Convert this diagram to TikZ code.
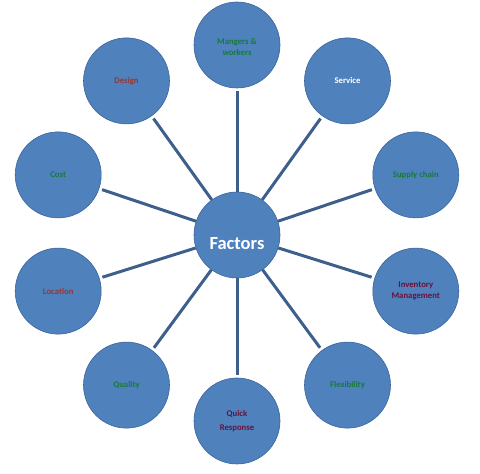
\documentclass[tikz,border=0pt]{standalone}
\usepackage{fontspec}
\setmainfont{Carlito}
\definecolor{ballblue}{RGB}{79,129,189}
\definecolor{ballline}{RGB}{58,100,155}
\definecolor{spokeblue}{RGB}{62,94,140}
\definecolor{txtgreen}{RGB}{22,122,58}
\definecolor{txtbrown}{RGB}{150,55,50}
\definecolor{txtmaroon}{RGB}{105,18,58}
\tikzset{
	ball/.style={circle,fill=ballblue,draw=ballline,line width=0.6pt,minimum size=86pt,inner sep=0pt,align=center,font=\bfseries\fontsize{8.7}{10.5}\selectfont},
	hub/.style={ball,text=white,font=\bfseries\fontsize{18.5}{20}\selectfont},
	spoke/.style={draw=spokeblue,line width=3pt,shorten >=3pt}
}
\begin{document}
\begin{tikzpicture}[x=1pt,y=1pt]
	\useasboundingbox (0,0) rectangle (480,474);
	\node[hub] (f) at (237,239) {\raisebox{-15pt}[0pt][0pt]{Factors}};
	\node[ball,text=txtgreen] (mw) at (237,429) {\\Mangers \&\\workers};
	\node[ball,text=white] (sv) at (347.5,393.1) {Service};
	\node[ball,text=txtgreen] (sc) at (415.8,299.1) {Supply chain};
	\node[ball,text=txtmaroon] (im) at (415.8,182.9) {Inventory\\Management};
	\node[ball,text=txtgreen] (fl) at (347.5,88.9) {Flexibility};
	\node[ball,text=txtmaroon] (qr) at (237,53) {Quick\\[3pt]Response};
	\node[ball,text=txtgreen] (ql) at (126.5,88.9) {Quality};
	\node[ball,text=txtbrown] (lc) at (58.2,182.9) {Location};
	\node[ball,text=txtgreen] (ct) at (58.2,299.1) {Cost};
	\node[ball,text=txtbrown] (dg) at (126.5,393.1) {Design};
		\draw[spoke] (f) -- (mw);
		\draw[spoke] (f) -- (sv);
		\draw[spoke] (f) -- (sc);
		\draw[spoke] (f) -- (im);
		\draw[spoke] (f) -- (fl);
		\draw[spoke] (f) -- (qr);
		\draw[spoke] (f) -- (ql);
		\draw[spoke] (f) -- (lc);
		\draw[spoke] (f) -- (ct);
		\draw[spoke] (f) -- (dg);
\end{tikzpicture}
\end{document}
